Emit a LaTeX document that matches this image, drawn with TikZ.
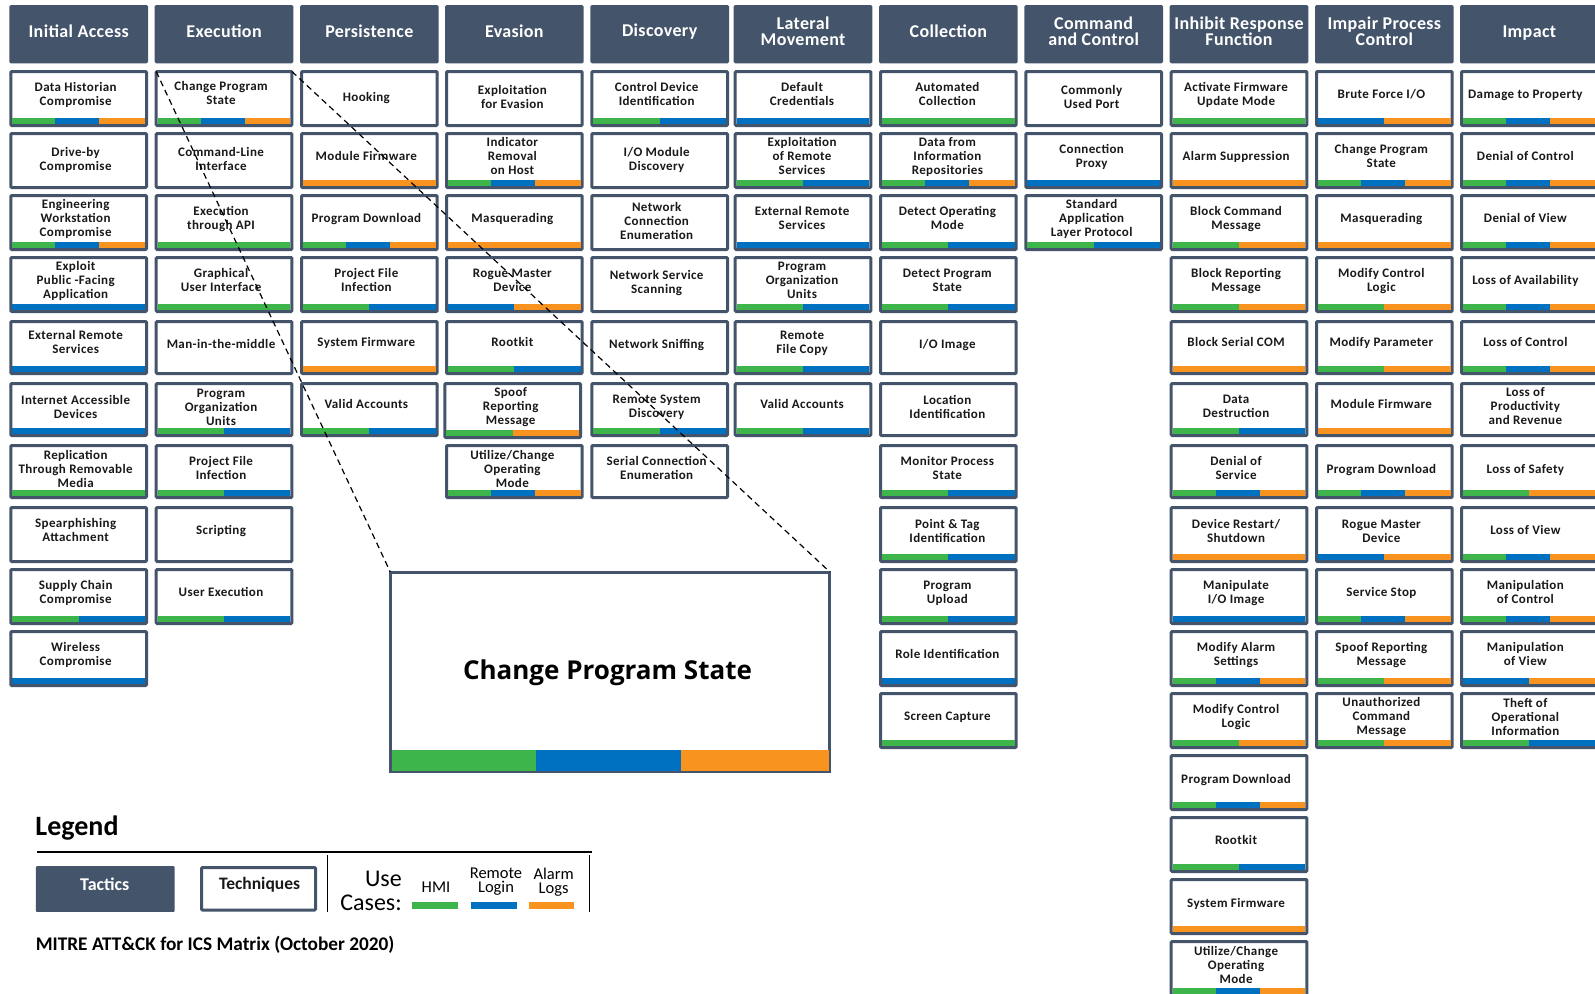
\documentclass[tikz,border=0pt]{standalone}
\usepackage{fontspec}
\setmainfont{Carlito}
\newfontfamily\opensans{Open Sans}
\usetikzlibrary{calc}
\definecolor{slate}{HTML}{44546A}
\definecolor{cG}{HTML}{3DB54A}
\definecolor{cB}{HTML}{0070C0}
\definecolor{cO}{HTML}{F7931E}
\tikzset{
  techbox/.style={draw=slate,fill=white,line width=3pt,rounded corners=1pt,anchor=north west,inner sep=0pt,outer sep=0pt,minimum width=135.7pt},
  techtext/.style={align=center,inner sep=0pt,font=\fontsize{13}{14}\bfseries\selectfont\addfontfeature{LetterSpace=3},text=black!90},
  tactic/.style={fill=slate,rounded corners=1.5pt,anchor=north west,inner sep=0pt,outer sep=0pt,minimum width=138.7pt,minimum height=58.3pt},
  tactictext/.style={inner sep=0pt,align=center,text=white,font=\fontsize{18}{16}\bfseries\selectfont\addfontfeature{LetterSpace=2}},
  zoomline/.style={draw=black,line width=1.2pt,dash pattern=on 6pt off 4.2pt},
  legendtext/.style={inner sep=0pt,align=center,font=\fontsize{16.5}{14}\selectfont,text=black}
}
\newcommand\barsN[4]{}
\newcommand\barsG[4]{\fill[cG] (#1,#3) rectangle (#2,#4);}
\newcommand\barsB[4]{\fill[cB] (#1,#3) rectangle (#2,#4);}
\newcommand\barsO[4]{\fill[cO] (#1,#3) rectangle (#2,#4);}
\newcommand\twobars[6]{\fill[#1] (#3,#5) rectangle ({(#3+#4)/2},#6);\fill[#2] ({(#3+#4)/2},#5) rectangle (#4,#6);}
\newcommand\barsGB[4]{\twobars{cG}{cB}{#1}{#2}{#3}{#4}}
\newcommand\barsGO[4]{\twobars{cG}{cO}{#1}{#2}{#3}{#4}}
\newcommand\barsBO[4]{\twobars{cB}{cO}{#1}{#2}{#3}{#4}}
\newcommand\barsGBO[4]{\fill[cG] (#1,#3) rectangle ({#1+0.323*(#2-#1)},#4);\fill[cB] ({#1+0.323*(#2-#1)},#3) rectangle ({#1+0.656*(#2-#1)},#4);\fill[cO] ({#1+0.656*(#2-#1)},#3) rectangle (#2,#4);}
\newcommand\colx[1]{\pgfmathsetmacro\bx{{9.3,154.7,300,445,590.3,733.7,879,1024.3,1169.7,1315,1460}[#1]}}
% technique box: [x shift]{column}{row}{text}{bars}{text y shift}
\newcommand\T[6][0]{%
  \colx{#2}%
  \pgfmathsetmacro\bx{\bx+#1}%
  \pgfmathsetmacro\by{{70,132,194,256,320,382,444,506,568,630,692,754,816,878,940}[#3-1]}%
  \pgfmathsetmacro\bh{{57,57,57,57,55,55,55,57,57,57,57,57,57,57,57}[#3-1]+(#1<0?2:0)}%
  \pgfmathsetmacro\bhi{\bh-3}%
  \pgfmathsetmacro\bcx{\bx+69.35-3+{0,0,0,1,0,2,2,1,0,0,-1}[#2]}%
  \pgfmathsetmacro\bcy{\by+(\bh<57?23:24)+#6}%
  \pgfmathsetmacro\bl{\bx+3}\pgfmathsetmacro\br{\bx+135.7}%
  \pgfmathsetmacro\bt{\by+\bh-9.4}\pgfmathsetmacro\bb{\by+\bh-2.8}%
  \node[techbox,minimum height=\bhi pt] (c#2r#3) at (\bx+1.5,\by+1.5) {};
  \csname bars#5\endcsname{\bl}{\br}{\bt}{\bb}
  \node[techtext] (c#2r#3t) at (\bcx,\bcy) {#4};
}
\newcommand\TA[3][0]{\colx{#2}\node[tactic] (tac#2) at (\bx,5) {};\node[tactictext] (tac#2t) at ([yshift=-#1pt+2.7pt]tac#2.center) {#3};}
\begin{document}
\begin{tikzpicture}[x=1pt,y=-1pt]
\useasboundingbox (0,0) rectangle (1595,993);
\clip (0,0) rectangle (1595,993);
\fill[white] (0,0) rectangle (1595,993);
\TA{0}{Initial Access}\TA{1}{Execution}\TA{2}{Persistence}\TA{3}{Evasion}\TA{4}{Discovery}
\TA{5}{Lateral\\Movement}\TA{6}{Collection}\TA{7}{Command\\and Control}
\TA{8}{Inhibit Response\\Function}\TA{9}{Impair Process\\Control}\TA[2]{10}{Impact}
% Initial Access
\T{0}{1}{Data Historian\\Compromise}{GBO}{1}
\T{0}{2}{Drive-by\\Compromise}{N}{3.5}
\T{0}{3}{Engineering\\Workstation\\Compromise}{GBO}{1}
\T{0}{4}{Exploit\\Public -Facing\\Application}{B}{1}
\T{0}{5}{External Remote\\Services}{B}{-1}
\T{0}{6}{Internet Accessible\\Devices}{B}{1.5}
\T{0}{7}{Replication\\Through Removable\\Media}{G}{1.5}
\T{0}{8}{Spearphishing\\Attachment}{N}{0}
\T{0}{9}{Supply Chain\\Compromise}{GB}{1}
\T{0}{10}{Wireless\\Compromise}{B}{1}
% Execution
\T{1}{1}{Change Program\\State}{GBO}{-1}
\T{1}{2}{Command-Line\\Interface}{N}{2.5}
\T{1}{3}{Execution\\through API}{G}{1}
\T{1}{4}{Graphical\\User Interface}{G}{0}
\T{1}{5}{Man-in-the-middle}{N}{1}
\T{1}{6}{Program\\Organization\\Units}{GB}{2}
\T{1}{7}{Project File\\Infection}{GB}{1}
\T{1}{8}{Scripting}{N}{1}
\T{1}{9}{User Execution}{GB}{0}
% Persistence
\T{2}{1}{Hooking}{N}{4}
\T{2}{2}{Module Firmware}{O}{0}
\T{2}{3}{Program Download}{GBO}{1}
\T{2}{4}{Project File\\Infection}{GB}{0}
\T{2}{5}{System Firmware}{O}{0}
\T{2}{6}{Valid Accounts}{GB}{-1}
% Evasion
\T{3}{1}{Exploitation\\for Evasion}{N}{2.5}
\T{3}{2}{Indicator\\Removal\\on Host}{GBO}{0}
\T{3}{3}{Masquerading}{O}{1}
\T{3}{4}{Rogue Master\\Device}{BO}{0}
\T{3}{5}{Rootkit}{GB}{-1}
\T[-1.7]{3}{6}{Spoof\\Reporting\\Message}{GO}{1.5}
\T{3}{7}{Utilize/Change\\Operating\\Mode}{GBO}{1.5}
% Discovery
\T{4}{1}{Control Device\\Identification}{GB}{0}
\T{4}{2}{I/O Module\\Discovery}{N}{3.5}
\T{4}{3}{Network\\Connection\\Enumeration}{N}{2.5}
\T{4}{4}{Network Service\\Scanning}{N}{3}
\T{4}{5}{Network Sniffing}{N}{2}
\T{4}{6}{Remote System\\Discovery}{GB}{2.5}
\T{4}{7}{Serial Connection\\Enumeration}{N}{1}
% Lateral Movement
\T{5}{1}{Default\\Credentials}{B}{0}
\T{5}{2}{Exploitation\\of Remote\\Services}{GB}{0}
\T{5}{3}{External Remote\\Services}{B}{0}
\T{5}{4}{Program\\Organization\\Units}{GB}{0.5}
\T{5}{5}{Remote\\File Copy}{GB}{0}
\T{5}{6}{Valid Accounts}{GB}{-1}
% Collection
\T{6}{1}{Automated\\Collection}{G}{0}
\T{6}{2}{Data from\\Information\\Repositories}{GBO}{1.5}
\T{6}{3}{Detect Operating\\Mode}{GB}{0}
\T{6}{4}{Detect Program\\State}{GB}{0}
\T{6}{5}{I/O Image}{N}{2}
\T{6}{6}{Location\\Identification}{N}{1.5}
\T{6}{7}{Monitor Process\\State}{GB}{1}
\T{6}{8}{Point \& Tag\\Identification}{GB}{1}
\T{6}{9}{Program\\Upload}{GB}{1.5}
\T{6}{10}{Role Identification}{B}{0}
\T{6}{11}{Screen Capture}{G}{1}
% Command and Control
\T{7}{1}{Commonly\\Used Port}{N}{2.5}
\T{7}{2}{Connection\\Proxy}{B}{1}
\T{7}{3}{Standard\\Application\\Layer Protocol}{GB}{1}
% Inhibit Response Function
\T{8}{1}{Activate Firmware\\Update Mode}{G}{1}
\T{8}{2}{Alarm Suppression}{O}{1}
\T{8}{3}{Block Command\\Message}{GO}{1.5}
\T{8}{4}{Block Reporting\\Message}{GO}{1}
\T{8}{5}{Block Serial COM}{O}{-1}
\T{8}{6}{Data\\Destruction}{GB}{1.5}
\T{8}{7}{Denial of\\Service}{GBO}{1}
\T{8}{8}{Device Restart/\\Shutdown}{O}{0.5}
\T{8}{9}{Manipulate\\I/O Image}{B}{1}
\T{8}{10}{Modify Alarm\\Settings}{GBO}{1}
\T{8}{11}{Modify Control\\Logic}{GO}{1}
\T{8}{12}{Program Download}{GBO}{2}
\T{8}{13}{Rootkit}{GB}{0}
\T{8}{14}{System Firmware}{O}{2}
\T{8}{15}{Utilize/Change\\Operating\\Mode}{GBO}{0.5}
% Impair Process Control
\T{9}{1}{Brute Force I/O}{BO}{0}
\T{9}{2}{Change Program\\State}{GBO}{0}
\T{9}{3}{Masquerading}{O}{1}
\T{9}{4}{Modify Control\\Logic}{GO}{1}
\T{9}{5}{Modify Parameter}{GO}{0}
\T{9}{6}{Module Firmware}{O}{-1}
\T{9}{7}{Program Download}{GBO}{3}
\T{9}{8}{Rogue Master\\Device}{BO}{1}
\T{9}{9}{Service Stop}{GBO}{1}
\T{9}{10}{Spoof Reporting\\Message}{GO}{1}
\T{9}{11}{Unauthorized\\Command\\Message}{GO}{1}
% Impact
\T{10}{1}{Damage to Property}{GBO}{1}
\T{10}{2}{Denial of Control}{GBO}{0}
\T{10}{3}{Denial of View}{GBO}{0}
\T{10}{4}{Loss of Availability}{GBO}{1}
\T{10}{5}{Loss of Control}{GBO}{-1}
\T{10}{6}{Loss of\\Productivity\\and Revenue}{N}{1.5}
\T{10}{7}{Loss of Safety}{GO}{3}
\T{10}{8}{Loss of View}{GBO}{0}
\T{10}{9}{Manipulation\\of Control}{GBO}{0}
\T{10}{10}{Manipulation\\of View}{BO}{0}
\T{10}{11}{Theft of\\Operational\\Information}{GB}{0.5}
% enlarged box
\node[draw=slate,fill=white,line width=3pt,anchor=north west,inner sep=0pt,outer sep=0pt,minimum width=439.6pt,minimum height=199pt] (big) at (390.3,572) {};
\fill[cG] (391.8,749.5) rectangle (536,770.5);
\fill[cB] (536,749.5) rectangle (681.3,770.5);
\fill[cO] (681.3,749.5) rectangle (829.4,770.5);
\node[inner sep=0pt,font=\opensans\fontsize{26}{30}\bfseries\selectfont] (bigt) at (607.5,673) {Change Program State};
\draw[zoomline] (c1r1.north west) -- (big.north west);
\draw[zoomline] (c1r1.north east) -- (big.north east);
% legend
\node[inner sep=0pt,anchor=center,font=\fontsize{28}{30}\bfseries\selectfont] (leg) at (77,828) {Legend};
\coordinate (rulea) at (36.8,852.3);
\coordinate (ruleb) at (591.5,852.3);
\draw[line width=2pt] (rulea) -- (ruleb);
\node[fill=slate,rounded corners=1pt,anchor=north west,inner sep=0pt,minimum width=138.8pt,minimum height=45.7pt] (ltac) at (35.6,866) {};
\node[inner sep=0pt,text=white,font=\fontsize{18}{18}\bfseries\selectfont] (ltact) at (104.8,884) {Tactics};
\node[techbox,minimum width=114pt,minimum height=42.5pt] (ltech) at (201.5,867.5) {};
\node[inner sep=0pt,font=\fontsize{17.5}{18}\bfseries\selectfont,text=black!90] (ltecht) at (259.6,885) {Techniques};
\coordinate (va) at (327.4,855);
\coordinate (vb) at (327.4,911.7);
\coordinate (vc) at (589.5,855);
\coordinate (vd) at (589.5,911.7);
\draw[line width=1.6pt] (va) -- (vb);
\draw[line width=1.6pt] (vc) -- (vd);
\node[inner sep=0pt,anchor=east,font=\fontsize{24}{24}\selectfont] (luse) at (402,879) {Use};
\node[inner sep=0pt,anchor=east,font=\fontsize{24}{24}\selectfont] (lcases) at (402,903) {Cases:};
\node[legendtext] (lhmi) at (436,887) {HMI};
\node[legendtext] (lrem) at (496,882) {Remote\\Login};
\node[legendtext] (lala) at (553.6,882) {Alarm\\Logs};
\fill[cG] (412,901.7) rectangle (457.5,909);
\fill[cB] (471.3,901.7) rectangle (517,909);
\fill[cO] (528.7,901.7) rectangle (574,909);
\node[inner sep=0pt,anchor=west,font=\fontsize{19.3}{22}\bfseries\selectfont] (lcap) at (35.6,944.3) {MITRE ATT\&CK for ICS Matrix (October 2020)};
\end{tikzpicture}
\end{document}
